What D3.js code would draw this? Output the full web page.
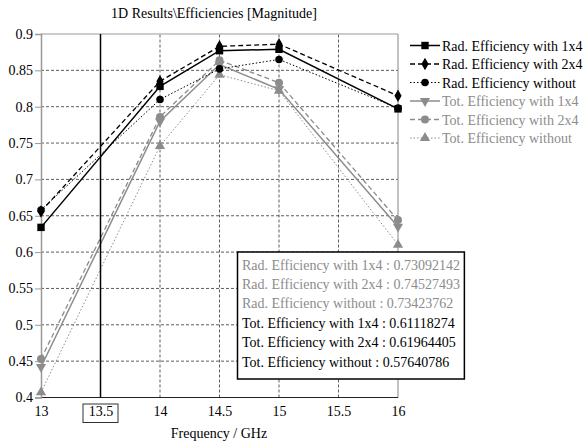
<!DOCTYPE html>
<html>
<head>
<meta charset="utf-8">
<script src="https://cdn.jsdelivr.net/npm/d3@7"></script>
<style>
  body { margin: 0; background: #fff; }
  svg text { font-family: "Liberation Serif", "Times New Roman", serif; font-size: 14px; }
</style>
</head>
<body>
<div id="chart"></div>
<script>
let width = 585,
    height = 446,
    serif = '"Liberation Serif", "Times New Roman", serif'

// DATA
let freqs = [13, 14, 14.5, 15, 16]
let radWith1x4 = [0.634, 0.828, 0.877, 0.879, 0.797]
let radWith2x4 = [0.656, 0.835, 0.883, 0.886, 0.815]
let radWithout = [0.658, 0.810, 0.852, 0.865, 0.798]
let totWith1x4 = [0.442, 0.780, 0.858, 0.824, 0.635]
let totWith2x4 = [0.453, 0.786, 0.864, 0.833, 0.644]
let totWithout = [0.407, 0.746, 0.844, 0.822, 0.610]
let seriesNames = ["Rad. Efficiency with 1x4", "Rad. Efficiency with 2x4", "Rad. Efficiency without",
                   "Tot. Efficiency with 1x4", "Tot. Efficiency with 2x4", "Tot. Efficiency without"]
let markerFreq = 13.5
let markerValues = ["0.73092142", "0.74527493", "0.73423762", "0.61118274", "0.61964405", "0.57640786"]
let xTicks = [13, 13.5, 14, 14.5, 15, 15.5, 16]
let yTicks = [0.4, 0.45, 0.5, 0.55, 0.6, 0.65, 0.7, 0.75, 0.8, 0.85, 0.9]

let gray = "#8c8c8c"
let styles = [
    {color: "#000", dash: null, sym: d3.symbolSquare, size: 55, w: 1.5},
    {color: "#000", dash: "5,3", sym: d3.symbolDiamond, size: 45, w: 1.3},
    {color: "#000", dash: "1.5,2", sym: d3.symbolCircle, size: 45, w: 1},
    {color: gray, dash: null, sym: d3.symbolTriangle, size: 45, w: 1.5, rot: 180},
    {color: gray, dash: "5,3", sym: d3.symbolCircle, size: 50, w: 1.3},
    {color: gray, dash: "1.5,2", sym: d3.symbolTriangle, size: 45, w: 1}
]
let allSeries = [radWith1x4, radWith2x4, radWithout, totWith1x4, totWith2x4, totWithout]

let svg = d3.select("#chart").append("svg")
    .attr("width", width)
    .attr("height", height)
    .attr("font-family", serif)
    .attr("font-size", 14)

let x = d3.scaleLinear().domain([13, 16]).range([41, 398])
let y = d3.scaleLinear().domain([0.4, 0.9]).range([397.5, 34])

//TITLE
svg.append("text").attr("x", 214).attr("y", 18).attr("text-anchor", "middle")
    .text("1D Results\\Efficiencies [Magnitude]")

//GRID
svg.append("g").selectAll("line")
    .data(yTicks.filter(t => t > 0.4 && t < 0.9))
    .enter().append("line")
    .attr("x1", x(13)).attr("x2", x(16))
    .attr("y1", d => y(d)).attr("y2", d => y(d))
    .attr("stroke", "#333").attr("stroke-dasharray", "3,2").attr("stroke-width", 0.8)
svg.append("g").selectAll("line")
    .data([14, 14.5, 15, 15.5])
    .enter().append("line")
    .attr("y1", y(0.4)).attr("y2", y(0.9))
    .attr("x1", d => x(d)).attr("x2", d => x(d))
    .attr("stroke", "#333").attr("stroke-dasharray", "3,2").attr("stroke-width", 0.8)

//FRAME
svg.append("line").attr("x1", x(13)).attr("x2", x(16)).attr("y1", y(0.9)).attr("y2", y(0.9))
    .attr("stroke", "#999").attr("stroke-width", 1.2)
svg.append("line").attr("x1", x(16)).attr("x2", x(16)).attr("y1", y(0.9)).attr("y2", y(0.4))
    .attr("stroke", "#999").attr("stroke-width", 1.2)
svg.append("line").attr("x1", x(13)).attr("x2", x(16)).attr("y1", y(0.4)).attr("y2", y(0.4))
    .attr("stroke", "#222").attr("stroke-width", 1.2)

//Y AXIS
let yAxis = d3.axisLeft(y).tickValues(yTicks).tickSize(6).tickPadding(2)
    .tickFormat(d => String(+d.toFixed(2)))
let gy = svg.append("g").attr("transform", "translate(" + x(13) + ",0)").call(yAxis)
    .attr("font-family", serif).attr("font-size", 14)
gy.select(".domain").attr("stroke", "#999").attr("stroke-width", 1.5)
gy.selectAll(".tick line").attr("stroke", "#999")
gy.selectAll("text").attr("fill", "#000")

//X AXIS labels
let xAxis = d3.axisBottom(x).tickValues(xTicks).tickSize(0).tickPadding(9)
    .tickFormat(d => String(d))
let gx = svg.append("g").attr("transform", "translate(0," + y(0.4) + ")").call(xAxis)
    .attr("font-family", serif).attr("font-size", 14)
gx.select(".domain").remove()
gx.selectAll("text").attr("fill", "#000")
svg.append("rect").attr("x", x(markerFreq) - 17.5).attr("y", 404).attr("width", 35).attr("height", 18.5)
    .attr("fill", "none").attr("stroke", "#333").attr("stroke-width", 1)

svg.append("text").attr("x", 219).attr("y", 438).attr("text-anchor", "middle")
    .text("Frequency / GHz")

//SERIES
let line = d3.line().x((d, i) => x(freqs[i])).y(d => y(d))
let order = [5, 4, 3, 2, 1, 0]
order.forEach(k => {
    let s = styles[k]
    svg.append("path").datum(allSeries[k])
        .attr("d", line)
        .attr("fill", "none")
        .attr("stroke", s.color)
        .attr("stroke-width", s.w)
        .attr("stroke-dasharray", s.dash)
    svg.append("g").selectAll("path")
        .data(allSeries[k])
        .enter().append("path")
        .attr("d", d3.symbol().type(s.sym).size(s.size))
        .attr("transform", (d, i) => "translate(" + x(freqs[i]) + "," + y(d) + ")" + (s.rot ? " rotate(" + s.rot + ")" : ""))
        .attr("fill", s.color)
})

//MARKER LINE
svg.append("line").attr("x1", x(markerFreq)).attr("x2", x(markerFreq))
    .attr("y1", y(0.9)).attr("y2", y(0.4))
    .attr("stroke", "#000").attr("stroke-width", 1.5)

//LEGEND
let legend = svg.append("g").selectAll("g")
    .data(seriesNames)
    .enter().append("g")
    .attr("transform", (d, i) => "translate(410," + (45.5 + i * 18.5) + ")")
legend.append("line").attr("x1", 0).attr("x2", 30).attr("y1", 0).attr("y2", 0)
    .attr("stroke", (d, i) => styles[i].color)
    .attr("stroke-width", (d, i) => styles[i].w)
    .attr("stroke-dasharray", (d, i) => styles[i].dash)
legend.append("path")
    .attr("d", (d, i) => d3.symbol().type(styles[i].sym).size(styles[i].size)())
    .attr("transform", (d, i) => "translate(15,0)" + (styles[i].rot ? " rotate(180)" : ""))
    .attr("fill", (d, i) => styles[i].color)
legend.append("text").attr("x", 32).attr("y", 5)
    .attr("fill", (d, i) => i < 3 ? "#000" : gray)
    .text(d => d)

//MARKER VALUES BOX
let box = svg.append("rect").attr("x", 237.5).attr("y", 252).attr("height", 127)
    .attr("fill", "#fff").attr("stroke", "#000").attr("stroke-width", 1.5)
let boxTexts = svg.append("g").selectAll("text")
    .data(seriesNames)
    .enter().append("text")
    .attr("x", 242)
    .attr("y", (d, i) => 269.5 + i * 19.4)
    .attr("fill", (d, i) => i < 3 ? gray : "#000")
    .text((d, i) => d + " : " + markerValues[i])
let maxW = d3.max(boxTexts.nodes(), n => n.getComputedTextLength())
box.attr("width", maxW + 9)
</script>
</body>
</html>
